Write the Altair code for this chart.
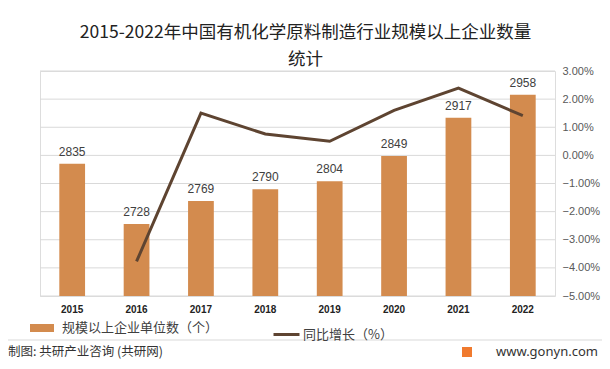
import altair as alt
import pandas as pd

years = ["2015", "2016", "2017", "2018", "2019", "2020", "2021", "2022"]
counts = [2835, 2728, 2769, 2790, 2804, 2849, 2917, 2958]
growth_years = ["2016", "2017", "2018", "2019", "2020", "2021", "2022"]
growth_pct = [-3.77, 1.50, 0.76, 0.50, 1.60, 2.39, 1.41]
left_ticks = [2600, 2650, 2700, 2750, 2800, 2850, 2900, 2950, 3000]
right_ticks = [-5, -4, -3, -2, -1, 0, 1, 2, 3]

bar_name = "规模以上企业单位数（个）"
line_name = "同比增长（%）"

cn_font = "Noto Sans CJK SC"
num_font = "Liberation Sans"
bar_color = "#D38B4E"
line_color = "#5E4431"

bars_df = pd.DataFrame({"year": years, "count": counts, "series": bar_name})
line_df = pd.DataFrame({"year": growth_years,
                        "growth": [g / 100 for g in growth_pct],
                        "series": line_name})
grid_df = pd.DataFrame({"tick": left_ticks})
one = pd.DataFrame({"a": [0]})

x_enc = alt.X("year:N", sort=years,
              scale=alt.Scale(paddingInner=0.6, paddingOuter=0.3),
              axis=alt.Axis(title=None, labelAngle=0, labelFont=num_font,
                            labelFontSize=10, labelFontWeight="bold",
                            labelColor="#222", ticks=False, domain=False,
                            labelPadding=8))

y_left = alt.Scale(domain=[2600, 3000], zero=False, nice=False)

grid = alt.Chart(grid_df).mark_rule(color="#d9d9d9", strokeWidth=1).encode(
    y=alt.Y("tick:Q", scale=y_left, axis=None),
)

bars = alt.Chart(bars_df).mark_bar().encode(
    x=x_enc,
    y=alt.Y("count:Q", scale=y_left,
            axis=alt.Axis(title=None, values=left_ticks, grid=False,
                          domain=False, ticks=False,
                          labelFont=num_font, labelFontSize=12,
                          labelColor="#595959", labelPadding=12)),
    y2=alt.datum(2600),
    fill=alt.Fill("series:N",
                  scale=alt.Scale(domain=[bar_name], range=[bar_color]),
                  legend=alt.Legend(orient="none", legendX=-6, legendY=249,
                                    title=None, direction="horizontal",
                                    symbolType="M-1.5,-0.5H1.5V0.5H-1.5Z",
                                    symbolSize=256, symbolStrokeWidth=0,
                                    labelOffset=12,
                                    labelFont=cn_font, labelFontSize=13,
                                    labelColor="#404040")),
)

bar_text = alt.Chart(bars_df).mark_text(
    dy=-12, font=num_font, fontSize=12, color="#404040"
).encode(
    x=alt.X("year:N", sort=years),
    y=alt.Y("count:Q", scale=y_left, axis=None),
    text=alt.Text("count:Q"),
)

left_layer = alt.layer(grid, bars, bar_text)

line = alt.Chart(line_df).mark_line(strokeWidth=3).encode(
    x=alt.X("year:N", sort=years),
    y=alt.Y("growth:Q",
            scale=alt.Scale(domain=[-0.05, 0.03], nice=False, zero=False),
            axis=alt.Axis(title=None, orient="right", format=".2%",
                          values=[t / 100 for t in right_ticks], grid=False,
                          domain=False, ticks=False, labelFont=num_font,
                          labelFontSize=11, labelColor="#595959",
                          labelPadding=7)),
    stroke=alt.Stroke("series:N",
                      scale=alt.Scale(domain=[line_name], range=[line_color]),
                      legend=alt.Legend(orient="none", legendX=232, legendY=249,
                                        title=None, direction="horizontal",
                                        symbolType="stroke", symbolSize=676,
                                        symbolStrokeWidth=3, labelOffset=2,
                                        labelFont=cn_font, labelFontSize=13,
                                        labelColor="#404040")),
)

sep = alt.Chart(one).mark_rule(color="#d9d9d9", strokeWidth=1).encode(
    x=alt.value(-32), x2=alt.value(562), y=alt.value(269))
foot_left = alt.Chart(one).mark_text(
    text="制图: 共研产业咨询 (共研网)", align="left", baseline="middle",
    font=cn_font, fontSize=12.5, color="#333333"
).encode(x=alt.value(-32), y=alt.value(281))
foot_icon = alt.Chart(one).mark_square(color="#F07A2E", size=100, opacity=1).encode(
    x=alt.value(427), y=alt.value(281))
foot_right = alt.Chart(one).mark_text(
    text="www.gonyn.com", align="left", baseline="middle",
    font="Noto Sans", fontSize=13, color="#333333"
).encode(x=alt.value(456), y=alt.value(281))

chart = alt.layer(left_layer, line, sep, foot_left, foot_icon, foot_right).resolve_scale(
    y="independent", fill="independent", stroke="independent"
).properties(
    width=515, height=225,
    padding={"left": 32, "top": 63, "right": 47, "bottom": 65},
    autosize=alt.AutoSizeParams(type="none"),
    title=alt.TitleParams(
        text=["2015-2022年中国有机化学原料制造行业规模以上企业数量", "统计"],
        font=cn_font, fontSize=17.5, fontWeight="normal", color="#222222",
        lineHeight=27, anchor="middle", dx=8, dy=11, offset=8),
).configure_view(stroke=None).configure(background="white")

chart.save("out.html", embed_options={"renderer": "svg", "actions": False})
